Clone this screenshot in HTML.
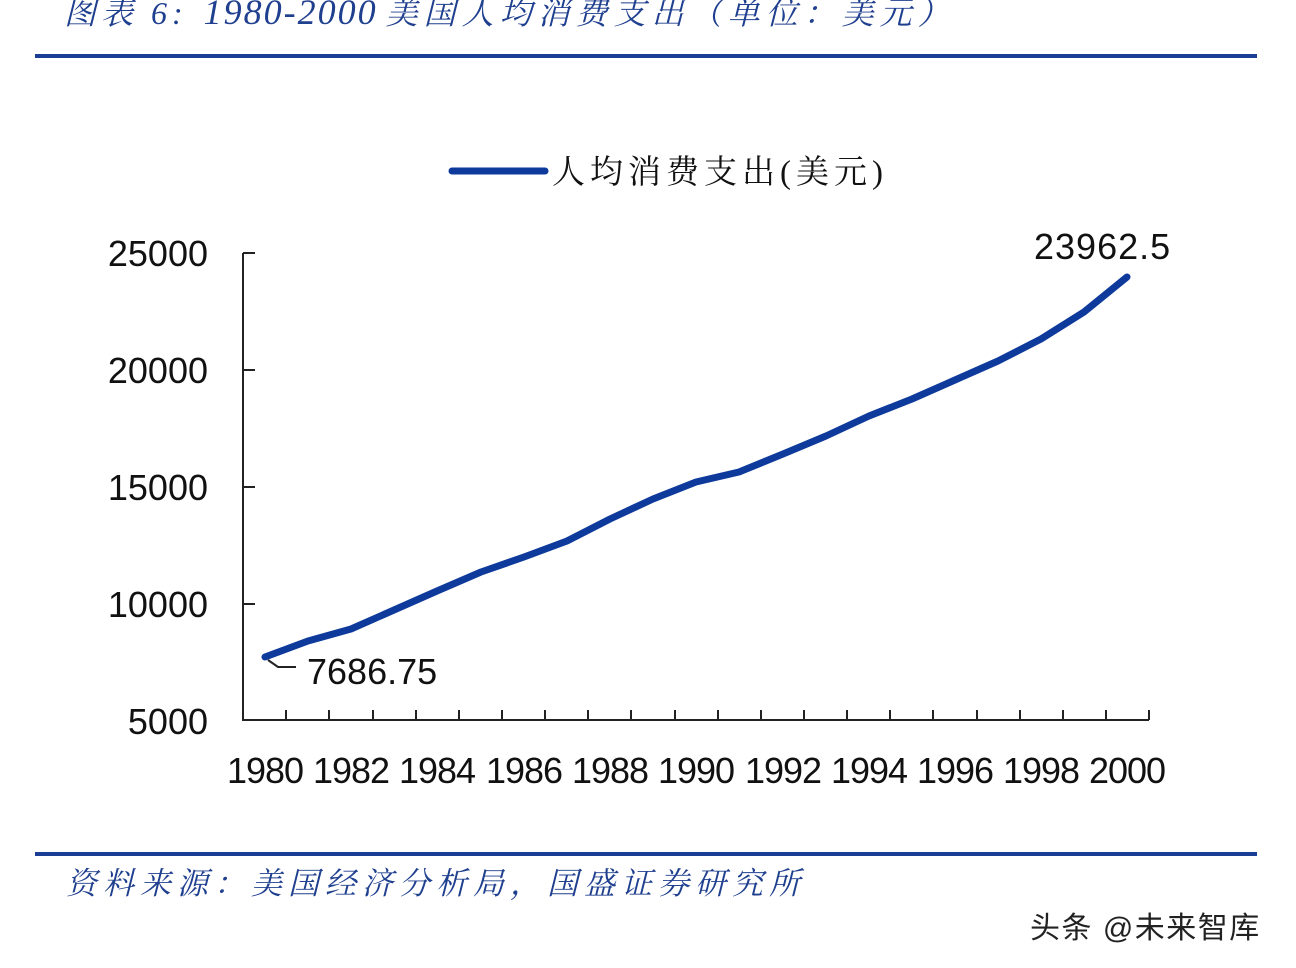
<!DOCTYPE html>
<html><head><meta charset="utf-8"><style>
body{margin:0;background:#fff;width:1296px;height:968px;overflow:hidden;position:relative;font-family:"Liberation Sans","Noto Sans CJK SC",sans-serif}
.t{position:absolute;white-space:nowrap}
</style></head><body>
<div class="t" style="left:64px;top:-12px;font-size:32px;font-style:italic;color:#1f3f8f;font-family:'Liberation Serif','Noto Serif CJK SC',serif"><span style="letter-spacing:5px">图表 6:</span>&nbsp;&nbsp;<span style="font-size:36px;letter-spacing:2px">1980-2000</span> <span style="letter-spacing:6px">美国人均消费支出（单位：美元）</span></div>
<div style="position:absolute;left:35px;top:54px;width:1222px;height:4px;background:#1a3e96"></div>
<div style="position:absolute;left:35px;top:852px;width:1222px;height:4px;background:#1a3e96"></div>
<div class="t" style="left:66px;top:858px;font-size:31px;font-style:italic;color:#1f3f8f;letter-spacing:6px;font-family:'Liberation Serif','Noto Serif CJK SC',serif">资料来源：美国经济分析局，国盛证券研究所</div>
<div class="t" style="left:1030px;top:903px;font-size:30px;color:#222;letter-spacing:1.5px">头条 @未来智库</div>
<svg width="1296" height="968" style="position:absolute;left:0;top:0" font-family="Liberation Sans, Noto Sans CJK SC, sans-serif">
<line x1="452" y1="171" x2="545" y2="171" stroke="#0e3a9c" stroke-width="7" stroke-linecap="round"/>
<text x="552" y="183" font-size="33" fill="#111" letter-spacing="5" font-family="Liberation Serif, Noto Serif CJK SC, serif">人均消费支出(美元)</text>
<g stroke="#222" stroke-width="2" fill="none">
<line x1="243" y1="253" x2="243" y2="721"/>
<line x1="242" y1="720" x2="1149" y2="720"/>
<line x1="243" y1="253" x2="255" y2="253"/><line x1="243" y1="370" x2="255" y2="370"/><line x1="243" y1="487" x2="255" y2="487"/><line x1="243" y1="604" x2="255" y2="604"/>
<path d="M286 720v-10M329 720v-10M373 720v-10M416 720v-10M459 720v-10M502 720v-10M545 720v-10M588 720v-10M631 720v-10M675 720v-10M718 720v-10M761 720v-10M804 720v-10M847 720v-10M890 720v-10M933 720v-10M977 720v-10M1020 720v-10M1063 720v-10M1106 720v-10M1149 720v-10"/>
</g>
<g font-size="36" fill="#111" text-anchor="end">
<text x="208" y="266">25000</text><text x="208" y="383">20000</text><text x="208" y="500">15000</text><text x="208" y="617">10000</text><text x="208" y="734">5000</text>
</g>
<g font-size="36" fill="#111" text-anchor="middle" letter-spacing="-1">
<text x="265" y="783">1980</text><text x="351" y="783">1982</text><text x="437" y="783">1984</text><text x="524" y="783">1986</text><text x="610" y="783">1988</text><text x="696" y="783">1990</text><text x="783" y="783">1992</text><text x="869" y="783">1994</text><text x="955" y="783">1996</text><text x="1041" y="783">1998</text><text x="1127" y="783">2000</text>
</g>
<polyline fill="none" stroke="#0e3a9c" stroke-width="7" stroke-linejoin="round" stroke-linecap="round" points="265,657 308,641 351,629 394,610 437,591 481,572 524,557 567,541 610,519 653,499 696,482 739,472 783,454 826,436 869,416 912,399 955,380 998,361 1041,339 1084,312 1127,277"/>
<path d="M268 660 L278 667 L296 667" stroke="#222" stroke-width="2" fill="none"/>
<text x="307" y="684" font-size="36" fill="#111">7686.75</text>
<text x="1034" y="259" font-size="36" fill="#111" letter-spacing="1">23962.5</text>
</svg>
</body></html>
